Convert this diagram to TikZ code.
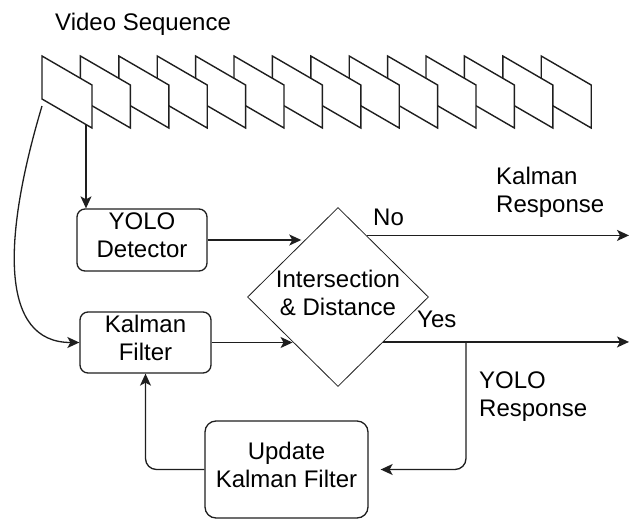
\documentclass[tikz,border=0pt]{standalone}
\usepackage{fontspec}
\setmainfont{Liberation Sans}
\usetikzlibrary{arrows.meta,shapes.geometric,calc}
\definecolor{linec}{HTML}{1E1E1E}
\begin{document}
\begin{tikzpicture}[x=1pt,y=-1pt,
  every node/.style={font=\fontsize{24}{28}\selectfont, text=black},
  box/.style={draw=linec, line width=1.3pt, rounded corners=8pt, align=center, inner sep=0pt,
    execute at end node={\rule[-9pt]{0pt}{9pt}}},
  ctext/.style={align=center, inner sep=0pt, execute at end node={\rule[-9pt]{0pt}{9pt}}},
  lbl/.style={inner sep=0pt, align=left},
  frame/.style={draw=linec, line width=1.4pt, fill=white, line join=miter},
  arr/.style={draw=linec, line width=1.3pt, -{Stealth[length=12pt,width=11pt,inset=3pt]}},
  decision/.style={draw=linec, line width=0.8pt, diamond, aspect=1, inner sep=0pt,
    minimum width=181pt, minimum height=179pt}
]
\useasboundingbox (0,0) rectangle (630,520);

% video frames (front frame drawn last)
\foreach \i in {13,12,...,0}{
  \pgfmathsetmacro\L{42+38.4*\i}
  \draw[frame] (\L,56) -- ++(50,29) -- ++(0,43) -- ++(-50,-29) -- cycle;
}
\node[lbl, anchor=base west] (title) at (55,30) {Video Sequence};

\coordinate (f1a) at (86,125);
\coordinate (f1c) at (42,106);
\coordinate (rightedge) at (629,0);
\coordinate (br) at (466,0);

% blocks
\node[box, minimum width=130pt, minimum height=62pt] (yolo) at (142,240) {YOLO\\Detector};
\node[box, minimum width=131pt, minimum height=61pt] (kal) at (145.5,342.5) {Kalman\\Filter};
\node[box, rounded corners=11pt, minimum width=163pt, minimum height=97pt] (upd) at (286.5,469.5) {Update\\Kalman Filter};
\node[decision] (dia) at (338,297) {};
\node[ctext] (dtext) at (338,297) {Intersection\\\& Distance};

% labels
\node[lbl, anchor=base west] (no) at (373,225) {No};
\node[lbl, anchor=base west] (yes) at (417,327) {Yes};
\node[lbl, anchor=north west] (kresp) at (496,167) {Kalman\\Response};
\node[lbl, anchor=north west] (yresp) at (479,372) {YOLO\\Response};

% connectors
\draw[arr] (f1a) -- (f1a |- yolo.north);
\draw[arr] (f1c) .. controls (2,240) and (0,342.5) .. (kal.west);
\path ($(dia.north)!0.36!(dia.west)$) coordinate (pinY);
\draw[arr, shorten >=4pt] (yolo.east) -- (yolo.east -| pinY);
\draw[arr] (kal.east) -- (kal.east -| dia.south west);
\path ($(dia.north)!0.315!(dia.east)$) coordinate (noS);
\draw[arr] (noS) -- (noS -| rightedge);
\draw[arr] (dia.south east) -- (dia.south east -| rightedge);
\draw[arr, rounded corners=11pt, shorten >=12pt] (dia.south east -| br) |- (upd.east);
\draw[arr, rounded corners=11pt] (upd.west) -| (kal.south);
\end{tikzpicture}
\end{document}
